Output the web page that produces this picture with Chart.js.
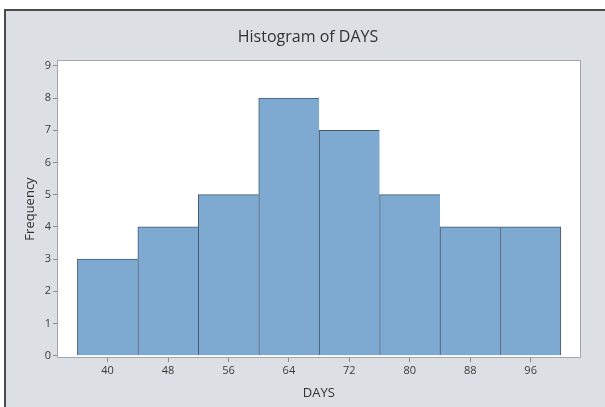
<!DOCTYPE html>
<html>
<head>
<meta charset="utf-8">
<script src="https://cdn.jsdelivr.net/npm/chart.js@4/dist/chart.umd.min.js"></script>
<style>html,body{margin:0;padding:0;background:#fff;}canvas{display:block;}</style>
</head>
<body>
<canvas id="c" width="605" height="407"></canvas>
<script>
const chartTitle = "Histogram of DAYS";
const xTitle = "DAYS";
const yTitle = "Frequency";
const binCenters = [40, 48, 56, 64, 72, 80, 88, 96];
const frequency = [3, 4, 5, 8, 7, 5, 4, 4];
const xTicks = [40, 48, 56, 64, 72, 80, 88, 96];
const yTicks = [0, 1, 2, 3, 4, 5, 6, 7, 8, 9];

const BG = '#dcdfe3';
const FONT = "'Open Sans', 'DejaVu Sans', sans-serif";

const framePlugin = {
  id: 'frame',
  beforeDraw(chart) {
    const ctx = chart.ctx;
    ctx.save();
    ctx.fillStyle = '#ffffff';
    ctx.fillRect(0, 0, chart.width, chart.height);
    ctx.fillStyle = BG;
    ctx.fillRect(4, 9, chart.width - 4, chart.height - 9);
    ctx.fillStyle = '#4a4a4a';
    ctx.fillRect(4, 9, chart.width - 4, 2);
    ctx.fillRect(4, 9, 2, chart.height - 9);
    const a = chart.chartArea;
    ctx.fillStyle = '#ffffff';
    ctx.fillRect(a.left, a.top, a.right - a.left, a.bottom - a.top);
    ctx.restore();
  },
  afterDraw(chart) {
    const ctx = chart.ctx;
    const a = chart.chartArea;
    ctx.save();
    ctx.strokeStyle = '#a3a6aa';
    ctx.lineWidth = 1;
    ctx.strokeRect(Math.round(a.left) + 0.5, Math.round(a.top) + 0.5, Math.round(a.right - a.left) - 1, Math.round(a.bottom - a.top) - 1);
    ctx.fillStyle = '#333333';
    ctx.font = "16px " + FONT;
    ctx.textAlign = 'center';
    ctx.textBaseline = 'middle';
    ctx.fillText(chartTitle, 308, 37);
    ctx.restore();
  }
};

const n = frequency.length;
new Chart(document.getElementById('c'), {
  type: 'bar',
  data: {
    datasets: [{
      data: binCenters.map((x, i) => ({x: x, y: frequency[i]})),
      backgroundColor: '#7eaad2',
      borderColor: '#46586a',
      borderWidth: (c) => ({top: 1, left: 1, bottom: 0, right: c.dataIndex === n - 1 ? 1 : 0}),
      borderSkipped: false,
      barPercentage: 1,
      categoryPercentage: 1
    }]
  },
  options: {
    responsive: false,
    animation: false,
    devicePixelRatio: 1,
    layout: {padding: {top: 60, right: 24.5, left: 0, bottom: 0}},
    plugins: {legend: {display: false}, title: {display: false}, tooltip: {enabled: false}},
    scales: {
      x: {
        type: 'linear',
        offset: false,
        min: 33.3, max: 102.6,
        afterBuildTicks: (s) => { s.ticks = xTicks.map(v => ({value: v})); },
        afterFit: (s) => { s.height = 49; },
        grid: {offset: false, drawOnChartArea: false, drawTicks: true, tickLength: 4, color: '#8a8d90'},
        border: {display: false},
        ticks: {color: '#3a3a3a', font: {family: FONT, size: 11}, padding: 2, maxRotation: 0},
        title: {display: true, text: xTitle, color: '#333333', font: {family: FONT, size: 13}, padding: {top: 0, bottom: 6}}
      },
      y: {
        min: -0.07, max: 9.18,
        afterBuildTicks: (s) => { s.ticks = yTicks.map(v => ({value: v})); },
        afterFit: (s) => { s.width = 57; },
        grid: {drawOnChartArea: false, drawTicks: true, tickLength: 4, color: '#8a8d90'},
        border: {display: false},
        ticks: {color: '#3a3a3a', font: {family: FONT, size: 11}, padding: 2},
        title: {display: true, text: yTitle, color: '#333333', font: {family: FONT, size: 13}, padding: {top: 22, bottom: 0}}
      }
    }
  },
  plugins: [framePlugin]
});
</script>
</body>
</html>
